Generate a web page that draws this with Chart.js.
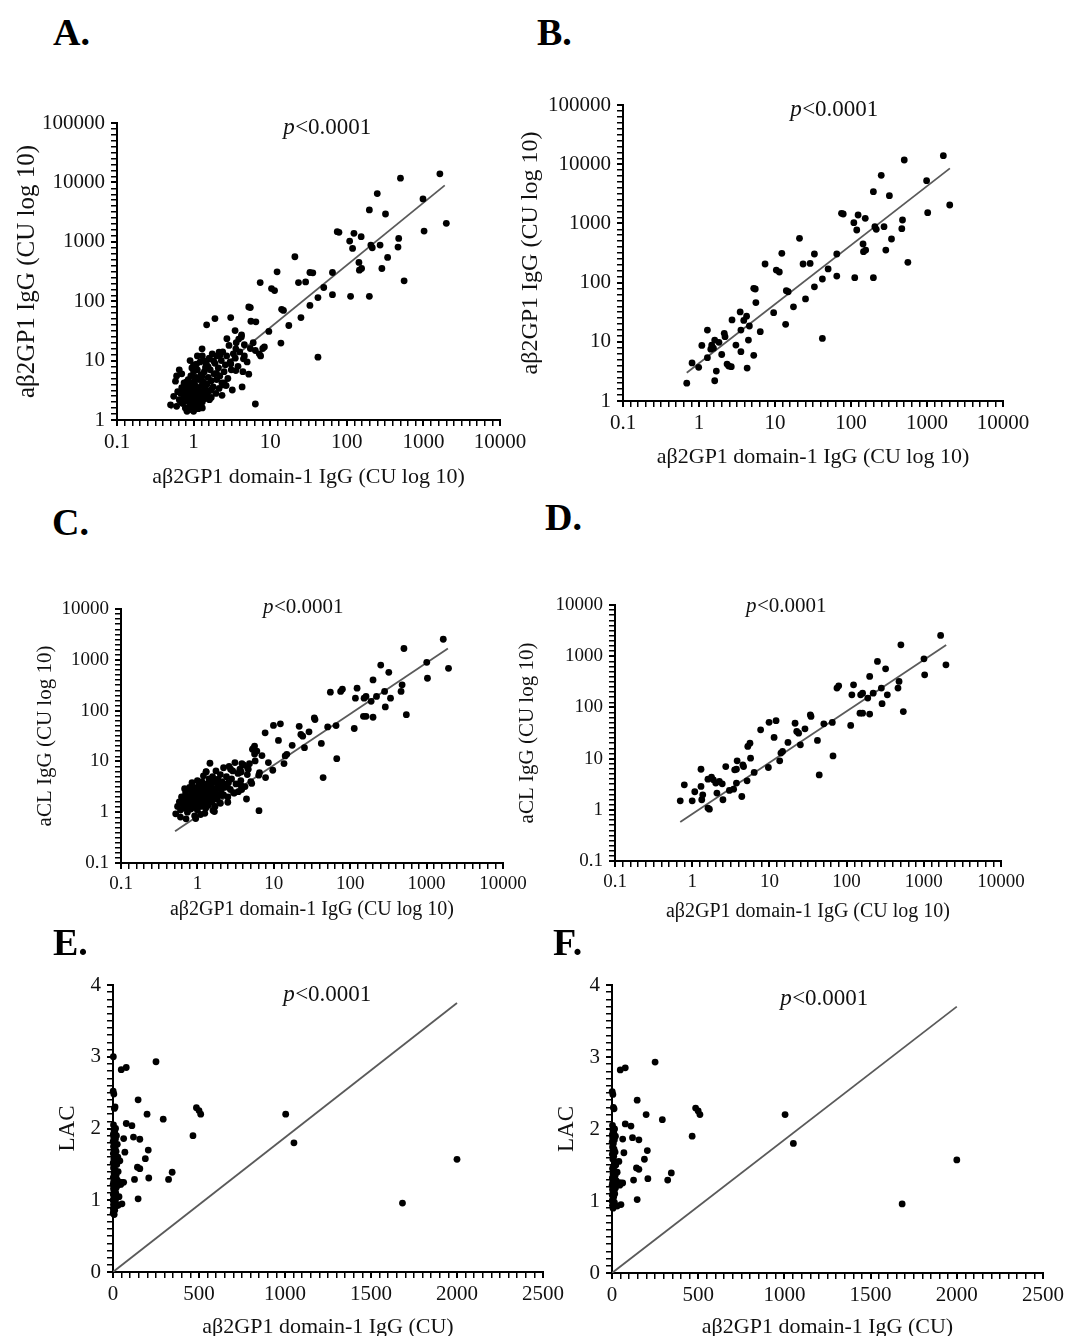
<!DOCTYPE html>
<html><head><meta charset="utf-8">
<script src="https://cdn.jsdelivr.net/npm/chart.js@4.4.1/dist/chart.umd.min.js"></script>
<style>
html,body{margin:0;padding:0;background:#fff;}
body{width:1077px;height:1336px;position:relative;overflow:hidden;font-family:"Liberation Serif","Times New Roman",serif;}
.panel{position:absolute;}
.letter{position:absolute;font-weight:bold;font-size:38px;line-height:38px;color:#000;font-family:"Liberation Serif","Times New Roman",serif;}
</style></head><body>
<script>
// ---------------- DATA ----------------
const panelLetters = ['A.', 'B.', 'C.', 'D.', 'E.', 'F.'];
const pItalic = 'p';
const pRest = '<0.0001';
const xTitleLog = 'aβ2GP1 domain-1 IgG (CU log 10)';
const xTitleLin = 'aβ2GP1 domain-1 IgG (CU)';
const yTitleB2 = 'aβ2GP1 IgG (CU log 10)';
const yTitleCL = 'aCL IgG (CU log 10)';
const yTitleLAC = 'LAC';

const logTicksX = [0.1, 1, 10, 100, 1000, 10000];
const logTicksY_AB = [1, 10, 100, 1000, 10000, 100000];
const logTicksY_CD = [0.1, 1, 10, 100, 1000, 10000];
const linTicksX_EF = [0, 500, 1000, 1500, 2000, 2500];
const linTicksY_EF = [0, 1, 2, 3, 4];

// Panel B: [domain-1 IgG, aβ2GP1 IgG]
const pointsB = [[0.69,2.0],[0.81,4.4],[0.99,3.7],[1.61,2.2],[1.69,3.2],[1.09,8.7],[1.29,15.8],[1.29,5.4],[1.43,7.5],[1.55,7.8],
[1.47,8.8],[1.61,10.7],[1.83,9.8],[1.99,6.1],[2.15,13.9],[2.2,12.2],[2.34,4.2],[2.46,3.9],[2.66,3.8],[2.72,23.4],
[3.06,8.8],[3.48,32],[3.56,15.8],[3.56,6.8],[3.88,23],[4.23,27],[4.3,3.6],[4.47,10.7],[4.6,18.5],[5.25,5.9],
[5.25,80],[5.5,78],[5.6,46],[6.4,14.8],[7.4,206],[9.6,31],[10.4,163],[11.4,151],[12.3,312],[13.8,19.7],
[14.1,73],[14.9,70],[17.5,39],[21,560],[23.4,206],[29,211],[25.2,53],[33,304],[33,85],[42,11.4],
[42,115],[50,170],[65,304],[65,129],[75,1479],[79,1442],[109,1028],[112,121],[119,774],[124,1387],
[154,1218],[144,449],[146,333],[156,355],[197,3437],[197,121],[215,794],[206,881],[250,6486],[272,881],
[287,355],[320,2940],[341,545],[466,815],[476,1141],[502,11776],[560,220],[988,5272],[1021,1518],[1641,13936],[1991,2046]];
// Panel A: all of panel B plus these
const pointsAExtra = [[0.5,1.8],[0.55,2.5],[0.6,5.5],[0.62,3.0],[0.65,2.2],[0.68,2.8],[0.7,3.5],[0.72,1.9],[0.74,2.4],[0.75,4.2],
[0.78,1.6],[0.78,3.0],[0.8,2.6],[0.8,3.8],[0.82,1.4],[0.83,2.1],[0.85,4.8],[0.85,3.2],[0.87,2.7],[0.88,1.7],
[0.9,10],[0.9,3.6],[0.9,2.3],[0.92,5.5],[0.93,1.5],[0.95,2.9],[0.95,4.2],[0.97,1.9],[0.98,3.3],[1.0,2.5],
[1.0,6.5],[1.0,8.5],[1.02,1.6],[1.03,4.5],[1.05,2.1],[1.05,3.0],[1.07,3.7],[1.08,5.2],[1.1,2.6],[1.1,1.8],
[1.12,7.0],[1.15,3.4],[1.15,2.2],[1.18,4.8],[1.2,1.7],[1.2,3.0],[1.22,9.5],[1.25,2.5],[1.25,5.8],[1.28,3.8],
[1.3,2.0],[1.3,12],[1.33,4.4],[1.35,2.9],[1.38,6.5],[1.4,3.4],[1.42,2.3],[1.45,8.0],[1.48,40],[1.5,4.0],
[1.5,2.7],[1.55,5.2],[1.6,3.1],[1.6,11],[1.65,7.0],[1.7,2.4],[1.7,4.6],[1.75,13],[1.8,3.6],[1.85,6.0],
[1.9,51],[1.9,9.0],[1.95,2.8],[2.0,4.8],[2.0,12],[2.1,7.5],[2.15,3.4],[2.2,5.5],[2.3,10],[2.35,2.6],
[2.4,14],[2.5,6.5],[2.5,4.2],[2.6,8.5],[2.7,12],[2.8,5.0],[2.9,18],[3.05,53],[3.0,9.5],[3.1,7.0],
[3.2,3.2],[3.3,13],[3.5,11],[3.6,20],[3.8,8.0],[4.0,14],[4.2,25],[4.4,6.5],[4.6,12],[5.0,9.5],
[5.5,16],[6.0,20],[6.4,1.86],[6.5,45],[7.2,13],[7.5,12],[8.0,16],[8.4,17],[0.58,4.5],[0.65,7.0],
[0.7,6.0],[0.95,7.5],[1.12,12],[1.35,10],[0.85,1.5],[1.0,1.4],[1.15,1.55],[1.3,1.6],[0.6,1.7],[36,300]];

// Panel D: [domain-1 IgG, aCL IgG]
const pointsD = [[0.70,1.50],[0.79,3.08],[1.0,1.50],[1.08,2.25],[1.30,6.2],[1.30,2.86],[1.37,1.96],[1.33,1.57],[1.60,1.08],[1.67,1.03],
[1.60,3.97],[1.78,4.35],[1.88,3.85],[2.02,3.32],[2.09,2.12],[2.25,3.57],[2.45,3.22],[2.50,1.57],[2.72,7.0],[3.03,2.39],
[3.44,2.53],[3.55,6.04],[3.74,6.2],[3.82,9.06],[3.74,3.32],[4.39,1.82],[4.53,7.57],[4.63,7.0],[5.14,3.68],[5.25,17.3],
[5.6,20],[5.7,10.2],[6.35,5.36],[7.7,36.5],[9.7,6.7],[9.9,51],[12.2,55],[11.5,25.9],[13.6,9.06],[14.1,12.8],
[14.8,13.8],[17.4,20.7],[21.5,49],[22.6,33.9],[23.9,31.4],[25.2,18.6],[28.9,38.2],[33.9,71.7],[34.6,66.5],[41.9,22.6],
[44.2,4.8],[50.7,47.8],[65.3,50.8],[66.7,11.3],[75,238],[79,264],[113,44.4],[123,276],[117,176],[152,176],
[161,190],[149,77],[161,77],[199,74],[199,402],[188,152],[221,190],[251,789],[282,238],[320,567],
[288,118],[337,176],[463,238],[478,321],[505,1670],[543,83],[1005,890],[1026,433],[1652,2540],[1936,679]];
// Panel C: all of panel D plus these
const pointsCExtra = [[0.52,0.93],[0.71,0.74],[0.55,1.3],[0.58,1.6],[0.6,1.1],[0.62,2.0],[0.65,1.4],[0.66,1.8],[0.68,1.2],[0.7,2.4],
[0.72,1.6],[0.74,1.0],[0.75,2.0],[0.77,1.3],[0.78,2.8],[0.8,1.7],[0.82,1.15],[0.83,2.2],[0.85,1.5],[0.87,3.2],
[0.88,1.9],[0.9,1.25],[0.9,2.6],[0.92,0.85],[0.93,1.7],[0.95,2.2],[0.97,1.4],[0.98,3.0],[1.0,1.9],[1.0,1.1],
[1.02,2.5],[1.05,1.6],[1.05,3.5],[1.08,2.1],[1.1,1.3],[1.12,2.8],[1.15,1.8],[1.15,4.0],[1.18,2.3],[1.2,1.5],
[1.22,3.1],[1.25,2.0],[1.28,1.2],[1.3,6.3],[1.3,2.6],[1.32,1.7],[1.35,3.6],[1.38,2.2],[1.4,1.4],[1.42,4.5],
[1.45,2.9],[1.46,9.2],[1.48,1.9],[1.5,2.4],[1.52,3.3],[1.55,1.6],[1.58,5.0],[1.6,2.7],[1.63,2.0],[1.66,3.9],
[1.7,1.3],[1.72,2.4],[1.75,6.5],[1.8,3.0],[1.82,1.8],[1.85,4.4],[1.9,2.2],[1.95,3.4],[2.0,5.5],[2.0,1.5],
[2.05,2.7],[2.1,4.0],[2.2,7.5],[2.2,2.2],[2.3,3.1],[2.4,5.0],[2.5,2.0],[2.55,3.8],[2.6,8.0],[2.7,2.8],
[2.8,4.5],[2.9,6.5],[3.0,2.4],[3.1,9.5],[3.2,3.6],[3.4,5.8],[3.6,7.0],[3.7,4.2],[3.8,2.8],[4.0,8.5],
[4.2,3.2],[4.5,5.5],[4.8,9.0],[5.0,4.0],[5.4,18],[5.6,14],[6.0,16],[6.4,1.07],[6.5,6.0],[7.0,13],
[7.8,4.8],[8.5,9.5],[0.6,0.8],[0.95,0.75],[1.1,0.9],[1.25,0.95],[0.68,2.9],[1.0,4.2],[1.2,5.2],[0.85,3.8],[55,230]];

// Panels E and F: [domain-1 IgG, LAC]
const pointsEFShared = [[250,2.93],[48,2.82],[77,2.85],[146,2.40],[198,2.20],[292,2.13],[485,2.29],[500,2.25],[510,2.20],[465,1.90],
[1004,2.20],[1052,1.80],[2000,1.57],[1683,0.96],[77,2.07],[110,2.04],[119,1.88],[62,1.86],[156,1.85],[205,1.70],
[188,1.58],[69,1.67],[142,1.46],[156,1.44],[125,1.29],[208,1.31],[323,1.29],[344,1.39],[146,1.02],[42,1.25],
[62,1.25],[52,0.95]];
const pointsENearZero = [[2,3.0],[1,2.52],[5,2.48],[12,2.3],[8,2.28],[3,2.05],[15,2.0],[6,1.98],[10,1.95],[2,1.92],
[20,1.9],[4,1.88],[14,1.85],[1,1.82],[8,1.8],[25,1.78],[3,1.75],[12,1.72],[6,1.7],[18,1.68],
[2,1.65],[10,1.62],[28,1.6],[5,1.58],[15,1.55],[1,1.52],[22,1.5],[8,1.48],[3,1.45],[12,1.42],
[30,1.4],[6,1.38],[18,1.35],[2,1.32],[10,1.3],[25,1.28],[4,1.26],[14,1.24],[1,1.22],[35,1.22],
[8,1.2],[20,1.18],[3,1.16],[12,1.14],[6,1.12],[16,1.1],[2,1.08],[10,1.06],[22,1.04],[5,1.02],
[1,1.0],[14,0.98],[8,0.96],[3,0.94],[18,0.92],[6,0.9],[2,0.88],[10,0.86],[4,0.84],[1,0.82],
[7,0.8],[12,1.5],[40,1.55],[45,1.22],[30,0.93],[50,1.25],[35,1.05]];
const pointsFNearZero = [[1,2.52],[5,2.48],[8,2.3],[12,2.28],[3,2.05],[15,2.0],[6,1.98],[10,1.95],[2,1.92],[20,1.9],
[4,1.88],[14,1.85],[1,1.82],[8,1.8],[3,1.75],[12,1.72],[6,1.7],[18,1.68],[2,1.65],[10,1.62],
[5,1.58],[15,1.55],[22,1.5],[8,1.48],[3,1.45],[12,1.42],[30,1.4],[6,1.38],[18,1.35],[2,1.32],
[10,1.3],[25,1.28],[4,1.26],[14,1.24],[1,1.22],[8,1.2],[20,1.18],[3,1.16],[12,1.14],[6,1.12],
[16,1.1],[2,1.08],[10,1.06],[5,1.02],[1,1.0],[14,0.98],[8,0.96],[3,0.94],[6,0.9],[40,1.55],
[45,1.22],[30,0.93],[50,1.25]];

// Regression lines: [start, end]
const fitA = [[0.5,1.55],[1900,8900]];
const fitB = [[0.69,3.0],[2000,8500]];
const fitC = [[0.51,0.42],[1900,1660]];
const fitD = [[0.70,0.58],[1950,1660]];
const fitE = [[0,0],[2000,3.75]];
const fitF = [[0,0],[2000,3.7]];

// ---------------- LAYOUT / STYLE ----------------
const FONT = '"Liberation Serif", "Times New Roman", serif';
const letterPos = [[53,13],[537,13],[52,503],[545,498],[53,923],[553,923]];

const panels = [
  {pts: pointsB.concat(pointsAExtra), fit: fitA, log: true, xr:[0.1,10000], yr:[1,100000], xt: logTicksX, yt: logTicksY_AB,
   xTitle: xTitleLog, yTitle: yTitleB2, L:117, R:500, T:123, B:420, yTX:27, xTY:477, pX:327, pY:128,
   tf:21, xtf:22, ytf:25, pf:23},
  {pts: pointsB, fit: fitB, log: true, xr:[0.1,10000], yr:[1,100000], xt: logTicksX, yt: logTicksY_AB,
   xTitle: xTitleLog, yTitle: yTitleB2, L:623, R:1003, T:105, B:401, yTX:531, xTY:457, pX:834, pY:110,
   tf:21, xtf:22, ytf:24, pf:23},
  {pts: pointsD.concat(pointsCExtra), fit: fitC, log: true, xr:[0.1,10000], yr:[0.1,10000], xt: logTicksX, yt: logTicksY_CD,
   xTitle: xTitleLog, yTitle: yTitleCL, L:121, R:503, T:609, B:863, yTX:45, xTY:910, pX:303, pY:607,
   tf:19, xtf:20, ytf:21, pf:21},
  {pts: pointsD, fit: fitD, log: true, xr:[0.1,10000], yr:[0.1,10000], xt: logTicksX, yt: logTicksY_CD,
   xTitle: xTitleLog, yTitle: yTitleCL, L:615, R:1001, T:605, B:861, yTX:527, xTY:912, pX:786, pY:606,
   tf:19, xtf:20, ytf:21, pf:21},
  {pts: pointsEFShared.concat(pointsENearZero), fit: fitE, log: false, xr:[0,2500], yr:[0,4], xt: linTicksX_EF, yt: linTicksY_EF,
   xTitle: xTitleLin, yTitle: yTitleLAC, L:113, R:543, T:985, B:1272, yTX:68, xTY:1327, pX:327, pY:995,
   tf:21, xtf:22, ytf:23, pf:23, xSub:10, ySub:10},
  {pts: pointsEFShared.concat(pointsFNearZero), fit: fitF, log: false, xr:[0,2500], yr:[0,4], xt: linTicksX_EF, yt: linTicksY_EF,
   xTitle: xTitleLin, yTitle: yTitleLAC, L:612, R:1043, T:985, B:1273, yTX:567, xTY:1327, pX:824, pY:999,
   tf:21, xtf:22, ytf:23, pf:23, xSub:10, ySub:10}
];

// build the full tick list (major ticks from the arrays, with evenly spaced minor ticks between them)
function buildTickList(majors, isLog, sub) {
  const out = [];
  for (let i = 0; i < majors.length; i++) {
    out.push({value: majors[i], major: true});
    if (i === majors.length - 1) break;
    for (let k = 1; k < sub; k++) {
      let v;
      if (isLog) v = Math.pow(10, Math.log10(majors[i]) + k * (Math.log10(majors[i + 1]) - Math.log10(majors[i])) / sub);
      else v = majors[i] + k * (majors[i + 1] - majors[i]) / sub;
      out.push({value: v, major: false});
    }
  }
  return out;
}

const pTextPlugin = {
  id: 'pText',
  afterDraw(chart, args, o) {
    const ctx = chart.ctx, ca = chart.chartArea;
    const cx = ca.left + o.dx, cy = ca.top + o.dy;
    ctx.save();
    const fi = 'italic ' + o.size + 'px ' + FONT, fr = o.size + 'px ' + FONT;
    ctx.font = fi; const w1 = ctx.measureText(pItalic).width;
    ctx.font = fr; const w2 = ctx.measureText(pRest).width;
    const x0 = cx - (w1 + w2) / 2;
    ctx.textBaseline = 'middle';
    ctx.fillStyle = '#111';
    ctx.font = fi; ctx.fillText(pItalic, x0, cy);
    ctx.font = fr; ctx.fillText(pRest, x0 + w1 + 0.5, cy);
    ctx.restore();
  }
};

function fmt(v) { return String(v); }

panels.forEach((P, i) => {
  const PAD_T = 30, PAD_R = 45;
  const cLeft = P.yTX - 20, cTop = P.T - PAD_T;
  const Wy = P.L - cLeft;
  const Hx = P.xTY + 20 - P.B;
  const W = Wy + (P.R - P.L) + PAD_R;
  const H = PAD_T + (P.B - P.T) + Hx;
  const div = document.createElement('div');
  div.className = 'panel';
  div.style.left = cLeft + 'px'; div.style.top = cTop + 'px';
  div.style.width = W + 'px'; div.style.height = H + 'px';
  const cv = document.createElement('canvas');
  cv.width = W; cv.height = H;
  div.appendChild(cv);
  document.body.appendChild(div);

  const xLH = P.xtf * 1.2, yLH = P.ytf * 1.2;
  const axisCommon = (type, range, tickVals, title, tf, lh, isX, sub) => ({
    type: type, min: range[0], max: range[1],
    afterBuildTicks: s => { s.ticks = buildTickList(tickVals, P.log, sub); },
    afterFit: s => { if (isX) s.height = Hx; else s.width = Wy; },
    ticks: {font: {family: FONT, size: tf}, color: '#111', padding: isX ? 4 : 6, autoSkip: false, maxRotation: 0,
      callback: (v, idx, ticks) => ticks[idx].major ? fmt(v) : ''},
    grid: {display: true, drawOnChartArea: false, drawTicks: true, tickLength: 6, color: '#000',
      lineWidth: c => (c.tick && c.tick.major) ? 2 : 1.5},
    border: {display: true, color: '#000', width: 2},
    title: {display: true, text: title, color: '#111', font: {family: FONT, size: isX ? P.xtf : P.ytf},
      padding: isX ? {top: 0, bottom: 20 - lh / 2} : {top: 20 - lh / 2, bottom: 0}}
  });

  new Chart(cv, {
    type: 'scatter',
    data: {datasets: [
      {data: P.pts.map(p => ({x: p[0], y: p[1]})), backgroundColor: '#000', borderWidth: 0,
       pointRadius: 3.4, pointHoverRadius: 3.4, clip: false, order: 1},
      {data: P.fit.map(p => ({x: p[0], y: p[1]})), showLine: true, borderColor: '#5a5a5a', borderWidth: 1.8,
       pointRadius: 0, fill: false, order: 2}
    ]},
    options: {
      responsive: false, animation: false, devicePixelRatio: 1,
      layout: {padding: {top: PAD_T, right: PAD_R, left: 0, bottom: 0}},
      plugins: {legend: {display: false}, tooltip: {enabled: false},
        pText: {dx: P.pX - P.L, dy: P.pY - P.T, size: P.pf}},
      scales: {
        x: axisCommon(P.log ? 'logarithmic' : 'linear', P.xr, P.xt, P.xTitle, P.tf, xLH, true, P.xSub || 10),
        y: axisCommon(P.log ? 'logarithmic' : 'linear', P.yr, P.yt, P.yTitle, P.tf, yLH, false, P.ySub || 10)
      }
    },
    plugins: [pTextPlugin]
  });

  const lt = document.createElement('div');
  lt.className = 'letter';
  lt.textContent = panelLetters[i];
  lt.style.left = letterPos[i][0] + 'px';
  lt.style.top = letterPos[i][1] + 'px';
  document.body.appendChild(lt);
});
</script>
</body></html>
